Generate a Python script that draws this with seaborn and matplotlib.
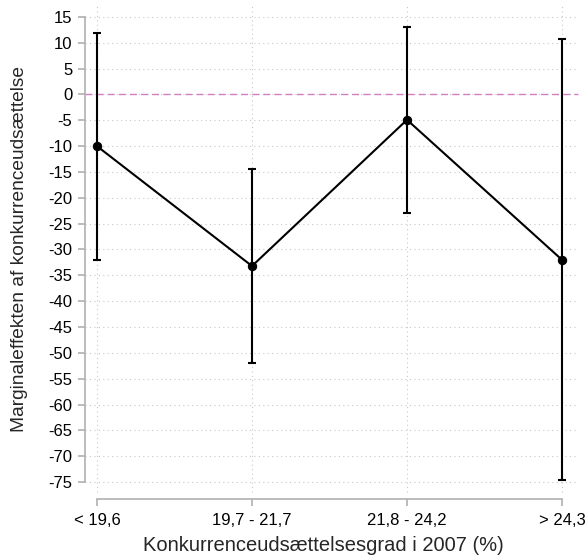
import matplotlib
matplotlib.use("Agg")
import matplotlib.pyplot as plt
import seaborn as sns
import pandas as pd
import numpy as np

categories = ["< 19,6", "19,7 - 21,7", "21,8 - 24,2", "> 24,3"]
effect = [-10.0, -33.2, -4.9, -32.0]
ci_low = [-32.0, -51.9, -23.0, -74.6]
ci_high = [11.9, -14.5, 13.1, 10.7]
yticks = list(range(-75, 20, 5))

sns.set_theme(style="white")
plt.rcParams['font.family'] = ['Liberation Sans', 'DejaVu Sans']

df = pd.DataFrame({"x": np.arange(len(categories)), "effect": effect,
                   "lo": ci_low, "hi": ci_high})

fig = plt.figure(figsize=(5.87, 5.57), dpi=100)
ax = fig.add_axes([85/587, 65/557, 493/587, 487/557])

# grid
for yt in yticks:
    ax.axhline(yt, color="#c8c8c8", lw=0.8, ls=(0, (1, 3)), zorder=0)
for xt in df["x"]:
    ax.axvline(xt, color="#c8c8c8", lw=0.8, ls=(0, (1, 3)), zorder=0)
ax.axhline(0, color="#d27fc0", lw=1.0, ls=(0, (5, 3)), zorder=1)

ax.errorbar(df["x"], df["effect"],
            yerr=[df["effect"] - df["lo"], df["hi"] - df["effect"]],
            fmt="none", ecolor="black", elinewidth=1.5, capsize=3, capthick=1.5,
            zorder=3, clip_on=False)
sns.lineplot(data=df, x="x", y="effect", ax=ax, color="black", lw=1.5,
             marker="o", markersize=6, markeredgecolor="black", zorder=4)
for l in ax.lines:
    l.set_clip_on(False)

ax.set_xlim(-12/155, 3 + 16/155)
ax.set_ylim(-75 - 10/5.167, 15 + 12/5.167)
ax.set_xticks(df["x"])
ax.set_xticklabels(categories)
ax.set_yticks(yticks)
ax.set_yticklabels([str(v) for v in yticks])

for s in ["top", "right"]:
    ax.spines[s].set_visible(False)
ax.spines["left"].set_bounds(-75, 15)
ax.spines["bottom"].set_bounds(0, 3)
ax.spines["bottom"].set_position(("outward", 5))
for s in ["left", "bottom"]:
    ax.spines[s].set_color("#b0b0b0")
    ax.spines[s].set_linewidth(1.2)
ax.tick_params(axis="both", which="both", length=5, width=1.2, color="#b0b0b0",
               labelsize=12, labelcolor="black", left=True, bottom=True)
ax.tick_params(axis="y", pad=4)
ax.tick_params(axis="x", pad=5)

ax.set_xlabel("Konkurrenceudsættelsesgrad i 2007 (%)", fontsize=14.5)
ax.set_ylabel("Marginaleffekten af konkurrenceudsættelse", fontsize=13.8)
ax.xaxis.set_label_coords(0.483, -0.090)
ax.yaxis.set_label_coords(-0.1156, 0.498)

fig.savefig("out.png", dpi=100)
